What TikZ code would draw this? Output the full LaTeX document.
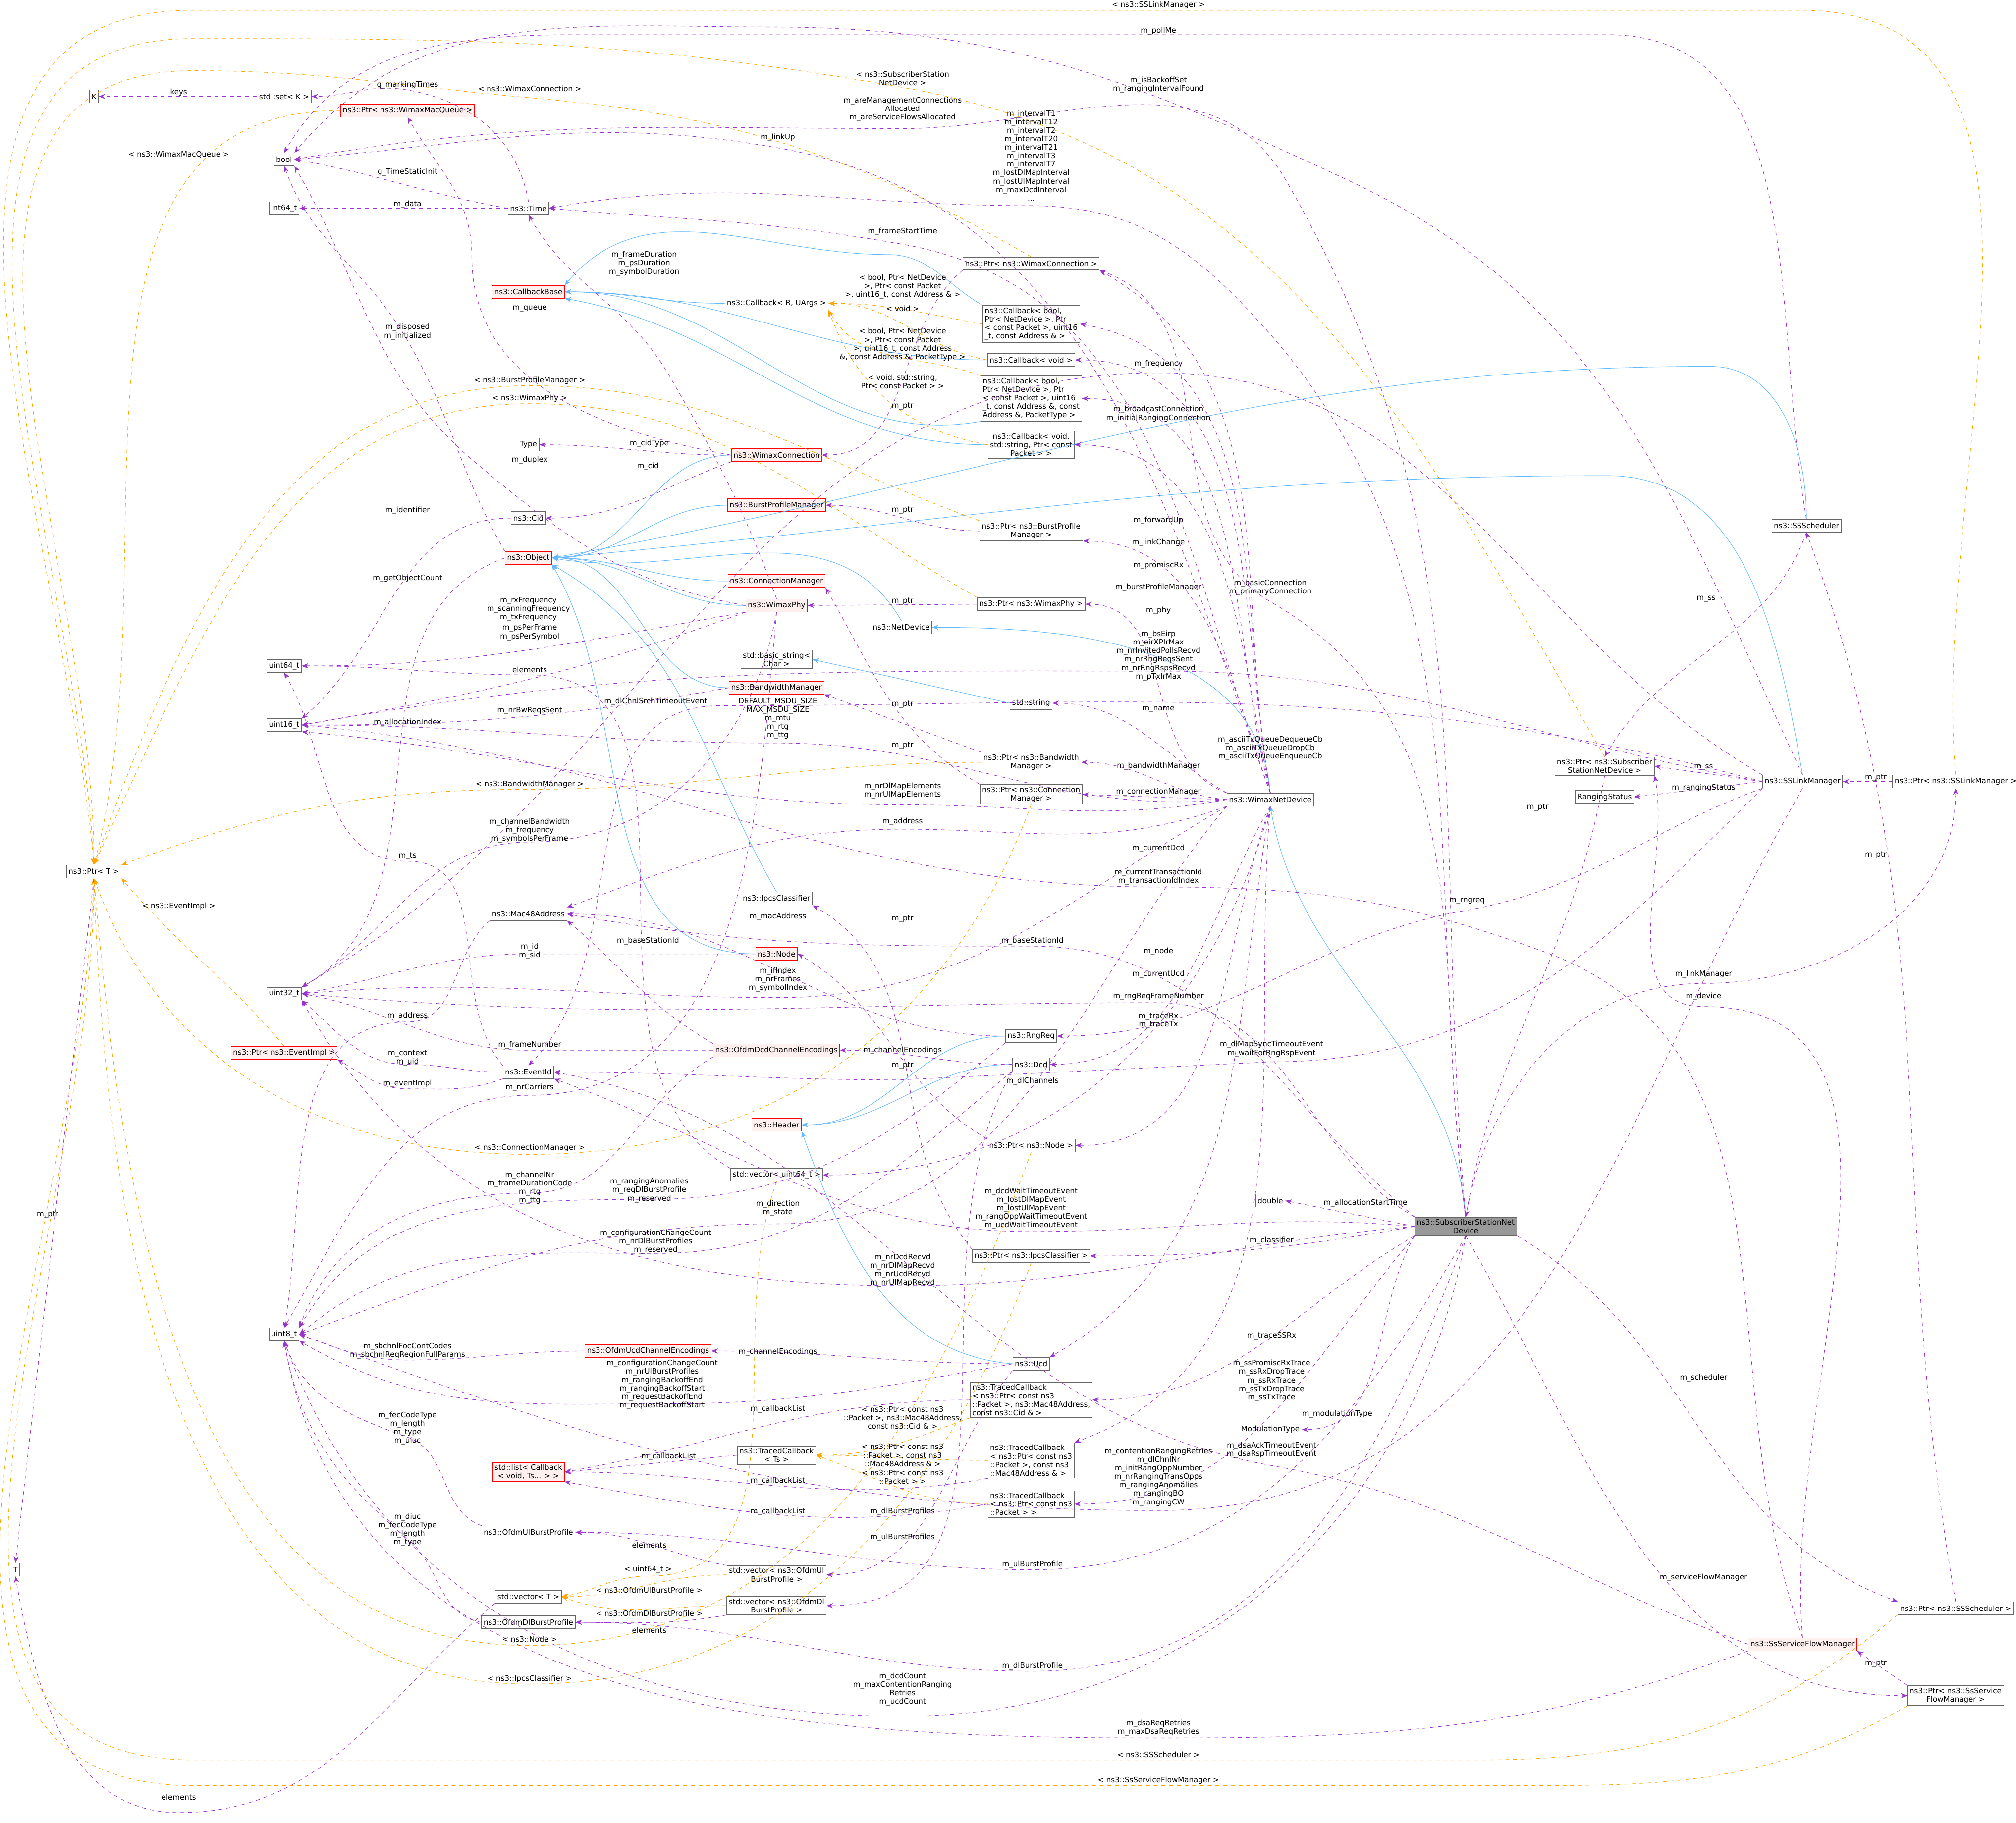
\documentclass[tikz,border=0pt]{standalone}
\usepackage{fontspec}
\setmainfont{DejaVu Sans}
\usetikzlibrary{arrows.meta,positioning}
\definecolor{memc}{HTML}{9A32CD}
\definecolor{tmplc}{HTML}{FFA500}
\definecolor{inhc}{HTML}{63B8FF}
\tikzset{
  cls/.style={draw=black!60, fill=white, font=\fontsize{5.8}{6.6}\selectfont, inner sep=1.6pt, minimum height=10pt, align=center},
  redcls/.style={cls, draw=red, fill=red!6},
  curcls/.style={cls, fill=black!40},
  lbl/.style={font=\fontsize{5.8}{6.6}\selectfont, align=center, inner sep=0pt},
  mem/.style={draw=memc, dashed, -{Stealth[length=5pt,width=4pt]}},
  tmpl/.style={draw=tmplc, dashed, -{Stealth[length=5pt,width=4pt]}},
  inh/.style={draw=inhc, -{Stealth[length=5pt,width=4pt]}},
}
\begin{document}
\begin{tikzpicture}[x=1pt,y=-1pt]
\useasboundingbox (0,0) rectangle (1568,1418);

% left column
\node[cls] (kT) at (73,75) {K};
\node[cls] (setK) at (221,75) {std::set< K >};
\node[cls] (bool) at (221,124) {bool};
\node[cls] (i64) at (221,162) {int64\_t};
\node[cls] (u64) at (221,518) {uint64\_t};
\node[cls] (u16) at (221,564) {uint16\_t};
\node[cls] (pT) at (73,678) {ns3::Ptr< T >};
\node[cls] (u32) at (221,773) {uint32\_t};
\node[redcls] (pEvImpl) at (221,819) {ns3::Ptr< ns3::EventImpl >};
\node[cls] (u8) at (221,1038) {uint8\_t};
\node[cls] (tT) at (12,1221) {T};

% second column
\node[redcls] (pMacQ) at (317,86) {ns3::Ptr< ns3::WimaxMacQueue >};
\node[cls] (time) at (411,162) {ns3::Time};
\node[redcls] (cbBase) at (411,227) {ns3::CallbackBase};
\node[cls] (type) at (411,346) {Type};
\node[cls] (cid) at (411,403) {ns3::Cid};
\node[redcls] (obj) at (411,434) {ns3::Object};
\node[cls] (mac) at (411,711) {ns3::Mac48Address};
\node[cls] (evId) at (411,834) {ns3::EventId};
\node[redcls] (cbList) at (411,1145) {std::list< Callback\\< void, Ts... > >};
\node[cls] (ulProf) at (411,1192) {ns3::OfdmUlBurstProfile};
\node[cls] (vecT) at (411,1242) {std::vector< T >};
\node[cls] (dlProf) at (411,1262) {ns3::OfdmDlBurstProfile};

% third column
\node[cls] (cbR) at (604,236) {ns3::Callback< R, UArgs >};
\node[redcls] (conn) at (604,354) {ns3::WimaxConnection};
\node[redcls] (bpm) at (604,393) {ns3::BurstProfileManager};
\node[redcls] (connMgr) at (604,452) {ns3::ConnectionManager};
\node[redcls] (phy) at (604,471) {ns3::WimaxPhy};
\node[cls] (netDev) at (701,488) {ns3::NetDevice};
\node[cls] (basicStr) at (604,513) {std::basic\_string<\\Char >};
\node[redcls] (bwMgr) at (604,535) {ns3::BandwidthManager};
\node[cls] (ipcs) at (604,699) {ns3::IpcsClassifier};
\node[redcls] (node) at (604,742) {ns3::Node};
\node[redcls] (dcdEnc) at (604,817) {ns3::OfdmDcdChannelEncodings};
\node[redcls] (header) at (604,875) {ns3::Header};
\node[cls] (vecU64) at (604,914) {std::vector< uint64\_t >};
\node[redcls] (ucdEnc) at (504,1051) {ns3::OfdmUcdChannelEncodings};
\node[cls] (tcTs) at (604,1132) {ns3::TracedCallback\\< Ts >};
\node[cls] (vecUl) at (604,1225) {std::vector< ns3::OfdmUl\\BurstProfile >};
\node[cls] (vecDl) at (604,1249) {std::vector< ns3::OfdmDl\\BurstProfile >};

% fourth column
\node[cls] (pConn) at (802,205) {ns3::Ptr< ns3::WimaxConnection >};
\node[cls, align=left] (cbFwd) at (802,252) {ns3::Callback< bool,\\ Ptr< NetDevice >, Ptr\\< const Packet >, uint16\\\_t, const Address \& >};
\node[cls] (cbVoid) at (802,280) {ns3::Callback< void >};
\node[cls, align=left] (cbPromisc) at (802,310) {ns3::Callback< bool,\\ Ptr< NetDevice >, Ptr\\< const Packet >, uint16\\\_t, const Address \&, const\\ Address \&, PacketType >};
\node[cls] (cbTrace) at (802,346) {ns3::Callback< void,\\std::string, Ptr< const\\Packet > >};
\node[cls] (pBpm) at (802,413) {ns3::Ptr< ns3::BurstProfile\\Manager >};
\node[cls] (pPhy) at (802,470) {ns3::Ptr< ns3::WimaxPhy >};
\node[cls] (str) at (802,547) {std::string};
\node[cls] (pBw) at (802,593) {ns3::Ptr< ns3::Bandwidth\\Manager >};
\node[cls] (pConnMgr) at (802,618) {ns3::Ptr< ns3::Connection\\Manager >};
\node[cls] (rngReq) at (802,806) {ns3::RngReq};
\node[cls] (dcd) at (802,828) {ns3::Dcd};
\node[cls] (pNode) at (802,891) {ns3::Ptr< ns3::Node >};
\node[cls] (pIpcs) at (802,977) {ns3::Ptr< ns3::IpcsClassifier >};
\node[cls] (ucd) at (802,1061) {ns3::Ucd};
\node[cls, align=left] (tcCid) at (802,1089) {ns3::TracedCallback\\< ns3::Ptr< const ns3\\::Packet >, ns3::Mac48Address,\\ const ns3::Cid \& >};
\node[cls, align=left] (tcMac) at (802,1136) {ns3::TracedCallback\\< ns3::Ptr< const ns3\\::Packet >, const ns3\\::Mac48Address \& >};
\node[cls, align=left] (tcPkt) at (802,1170) {ns3::TracedCallback\\< ns3::Ptr< const ns3\\::Packet > >};

% fifth column
\node[cls] (wnd) at (988,622) {ns3::WimaxNetDevice};
\node[cls] (dbl) at (988,934) {double};
\node[cls] (modType) at (988,1112) {ModulationType};
\node[curcls] (ssnd) at (1140,954) {ns3::SubscriberStationNet\\Device};

% right columns
\node[cls] (sched) at (1405,409) {ns3::SSScheduler};
\node[cls] (pSsnd) at (1248,596) {ns3::Ptr< ns3::Subscriber\\StationNetDevice >};
\node[cls] (rngStat) at (1248,620) {RangingStatus};
\node[cls] (linkMgr) at (1402,608) {ns3::SSLinkManager};
\node[cls] (pLinkMgr) at (1521,608) {ns3::Ptr< ns3::SSLinkManager >};
\node[cls] (pSched) at (1521,1251) {ns3::Ptr< ns3::SSScheduler >};
\node[redcls] (sfMgr) at (1402,1279) {ns3::SsServiceFlowManager};
\node[cls] (pSfMgr) at (1521,1319) {ns3::Ptr< ns3::SsService\\FlowManager >};

% inheritance
\draw[inh] (cbR.west) to[out=180,in=0] (cbBase.east);
\draw[inh] (cbFwd.north west) to[out=150,in=0] (690,198) to[out=180,in=50] (cbBase.north east);
\draw[inh] (cbVoid.west) to[out=180,in=0] (cbBase.east);
\draw[inh] (cbPromisc.south west) to[out=190,in=0] (cbBase.east);
\draw[inh] (cbTrace.west) to[out=180,in=-10] (cbBase.south east);
\foreach \c in {conn,bpm,connMgr,phy,bwMgr} \draw[inh] (\c.west) to[out=180,in=0] (obj.east);
\draw[inh] (ipcs.north) to[out=120,in=-30] (obj.south east);
\draw[inh] (node.west) to[out=180,in=-60] (obj.south east);
\draw[inh] (netDev.north) to[out=120,in=-10] (obj.east);
\draw[inh] (sched.north) to[out=90,in=0] (1330,285) to[out=180,in=10] (obj.east);
\draw[inh] (linkMgr.north) to[out=100,in=0] (1250,370) to[out=180,in=5] (obj.east);
\draw[inh] (wnd.north) to[out=95,in=0] (netDev.east);
\draw[inh] (ssnd.north) to[out=95,in=-80] (wnd.south);
\draw[inh] (str.west) -- (basicStr.east);
\foreach \c in {rngReq,dcd} \draw[inh] (\c.west) to[out=180,in=0] (header.east);
\draw[inh] (ucd.west) to[out=175,in=-70] (header.south east);

% templates
\draw[tmpl] (pLinkMgr.north) to[out=95,in=0] (1400,8) -- (150,8) to[out=180,in=95] (pT.north);
\draw[tmpl] (pSsnd.north) to[out=120,in=-10] (702,68) to[out=170,in=0] (150,30) to[out=180,in=93] (pT.north);
\draw[tmpl] (pConn.north) to[out=150,in=-5] (412,76) to[out=175,in=0] (150,55) to[out=180,in=90] (pT.north);
\draw[tmpl] (pMacQ.west) to[out=180,in=75] (pT.north);
\draw[tmpl] (pBpm.north west) to[out=160,in=0] (412,300) to[out=180,in=70] (pT.north);
\draw[tmpl] (pPhy.north west) to[out=150,in=0] (412,314) to[out=180,in=65] (pT.north);
\draw[tmpl] (pBw.west) to[out=180,in=0] (412,614) to[out=180,in=20] (pT.north east);
\draw[tmpl] (pEvImpl.north) to[out=130,in=-50] (pT.south east);
\draw[tmpl] (pConnMgr.south) to[out=-110,in=0] (412,898) to[out=180,in=-70] (pT.south);
\draw[tmpl] (pNode.south) to[out=-110,in=0] (412,1280) to[out=180,in=-85] (pT.south);
\draw[tmpl] (pIpcs.south) to[out=-110,in=0] (412,1310) to[out=180,in=-88] (pT.south);
\draw[tmpl] (pSched.south west) to[out=220,in=0] (1150,1369) -- (150,1369) to[out=180,in=-90] (pT.south);
\draw[tmpl] (pSfMgr.south west) to[out=210,in=0] (1150,1389) -- (150,1389) to[out=180,in=-92] (pT.south);
\draw[tmpl] (cbFwd.west) to[out=170,in=0] (cbR.east);
\draw[tmpl] (cbVoid.west) to[out=170,in=0] (cbR.east);
\draw[tmpl] (cbPromisc.north west) to[out=160,in=-60] (cbR.south east);
\draw[tmpl] (cbTrace.west) to[out=170,in=-70] (cbR.south east);
\draw[tmpl] (tcCid.south west) to[out=200,in=0] (tcTs.east);
\draw[tmpl] (tcMac.west) to[out=180,in=0] (tcTs.east);
\draw[tmpl] (tcPkt.west) to[out=180,in=-20] (tcTs.east);
\draw[tmpl] (vecU64.south) to[out=-110,in=0] (504,1226) to[out=180,in=10] (vecT.east);
\draw[tmpl] (vecUl.west) to[out=180,in=0] (vecT.east);
\draw[tmpl] (vecDl.west) to[out=180,in=-20] (vecT.east);

% members, left part
\draw[mem] (setK) -- (kT);
\draw[mem] (time.north) to[out=100,in=-10] (317,70) to[out=170,in=0] (setK.east);
\draw[mem] (time.west) to[out=170,in=-10] (bool.east);
\draw[mem] (time.west) -- (i64.east);
\draw[mem] (obj.north west) to[out=120,in=-60] (317,265) to[out=120,in=-70] (bool.south);
\draw[mem] (obj.west) to[out=200,in=30] (u32.north east);
\draw[mem] (cid.west) to[out=180,in=40] (u16.north east);
\draw[mem] (conn.west) to[out=170,in=-90] (367,200) to[out=90,in=-60] (pMacQ.south);
\draw[mem] (conn.west) to[out=180,in=0] (type.east);
\draw[mem] (conn.south west) to[out=200,in=0] (cid.east);
\draw[mem] (phy.west) to[out=170,in=-40] (370,360) to[out=140,in=-60] (bool.south east);
\draw[mem] (phy.south west) to[out=190,in=0] (u64.east);
\draw[mem] (phy.south west) to[out=200,in=10] (u16.east);
\draw[mem] (phy.north) to[out=110,in=-60] (521,293) to[out=120,in=-60] (time.south);
\draw[mem] (phy.south) to[out=-100,in=0] (412,655) to[out=180,in=30] (u32.north east);
\draw[mem] (phy.south) to[out=-95,in=0] (412,852) to[out=180,in=60] (u8.north);
\draw[mem] (vecU64.north west) to[out=150,in=0] (412,525) to[out=180,in=0] (u64.east);
\draw[mem] (bwMgr.west) to[out=190,in=0] (u16.east);
\draw[mem] (evId.north west) to[out=130,in=0] (317,670) to[out=180,in=-60] (u64.south);
\draw[mem] (evId.west) to[out=180,in=0] (317,828) to[out=180,in=-40] (u32.south east);
\draw[mem] (evId.south west) to[out=200,in=0] (317,847) to[out=180,in=-30] (pEvImpl.south east);
\draw[mem] (node.west) to[out=180,in=0] (412,742) to[out=180,in=10] (u32.east);
\draw[mem] (mac.south west) to[out=220,in=0] (317,795) to[out=180,in=80] (u8.north);
\draw[mem] (dcdEnc.west) to[out=180,in=0] (412,817) to[out=180,in=-10] (u32.east);
\draw[mem] (dcdEnc.south west) to[out=210,in=0] (412,928) to[out=180,in=70] (u8.north east);
\draw[mem] (dcdEnc.north west) to[out=150,in=-40] (mac.south east);
\draw[mem] (rngReq.west) to[out=180,in=0] (mac.east);
\draw[mem] (rngReq.south west) to[out=220,in=0] (505,933) to[out=180,in=60] (u8.north east);
\draw[mem] (dcd.south west) to[out=220,in=0] (510,975) to[out=180,in=40] (u8.east);
\draw[mem] (ucdEnc.west) to[out=180,in=0] (317,1058) to[out=180,in=-20] (u8.east);
\draw[mem] (ucd.west) to[out=190,in=0] (515,1092) to[out=180,in=-30] (u8.south east);
\draw[mem] (ulProf.north west) to[out=160,in=-20] (317,1118) to[out=160,in=-70] (u8.south);
\draw[mem] (dlProf.west) to[out=170,in=-40] (317,1197) to[out=140,in=-80] (u8.south);
\draw[mem] (tcTs.west) -- (cbList.east);
\draw[mem] (tcCid.west) to[out=180,in=10] (cbList.east);
\draw[mem] (tcMac.south west) to[out=190,in=0] (cbList.east);
\draw[mem] (tcPkt.west) to[out=190,in=-10] (cbList.south east);
\draw[mem] (vecUl.north west) to[out=170,in=0] (ulProf.east);
\draw[mem] (vecDl.south west) to[out=190,in=0] (dlProf.east);
\draw[mem] (ucd.west) to[out=180,in=0] (ucdEnc.east);
\draw[mem] (dcd.west) to[out=180,in=0] (dcdEnc.east);
\draw[mem] (ucd.south west) to[out=230,in=0] (vecUl.east);
\draw[mem] (dcd.south west) to[out=240,in=0] (vecDl.east);
\draw[mem] (pT.south) -- (tT.north);
\draw[mem] (vecT.south west) to[out=220,in=0] (139,1410) to[out=180,in=-80] (tT.south);

% members, pointers
\draw[mem] (pConn.south west) to[out=220,in=0] (conn.east);
\draw[mem] (pBpm.west) to[out=180,in=0] (bpm.east);
\draw[mem] (pPhy.west) -- (phy.east);
\draw[mem] (pBw.north west) to[out=160,in=-20] (bwMgr.south east);
\draw[mem] (pConnMgr.north west) to[out=150,in=-60] (connMgr.south east);
\draw[mem] (pIpcs.north west) to[out=130,in=-30] (ipcs.south east);
\draw[mem] (pNode.north west) to[out=150,in=-30] (node.east);
\draw[mem] (pSsnd.south) to[out=-100,in=80] (ssnd.north);
\draw[mem] (pLinkMgr.west) -- (linkMgr.east);
\draw[mem] (pSched.north) to[out=100,in=-70] (sched.south);
\draw[mem] (pSfMgr.north west) -- (sfMgr.south east);

% members, network device
\draw[mem] (wnd.north west) to[out=160,in=0] (pPhy.east);
\draw[mem] (wnd.north west) to[out=150,in=0] (str.east);
\draw[mem] (wnd.west) to[out=175,in=0] (pBw.east);
\draw[mem] (wnd.west) -- (pConnMgr.east);
\draw[mem] (wnd.north) to[out=110,in=0] (pBpm.south east);
\draw[mem] (wnd.north) to[out=105,in=0] (cbPromisc.east);
\draw[mem] (wnd.north) to[out=100,in=0] (cbVoid.east);
\draw[mem] (wnd.north) to[out=100,in=-10] (cbFwd.east);
\draw[mem] (wnd.north) to[out=100,in=-30] (pConn.south east);
\draw[mem] (wnd.north) to[out=102,in=0] (cbTrace.east);
\draw[mem] (wnd.north) to[out=110,in=-10] (605,115) to[out=170,in=5] (bool.east);
\draw[mem] (wnd.north) to[out=110,in=-10] (702,190) to[out=170,in=-5] (time.east);
\draw[mem] (wnd.west) to[out=185,in=0] (605,578) to[out=180,in=0] (u16.east);
\draw[mem] (wnd.west) to[out=190,in=0] (702,626) to[out=180,in=-5] (u16.south east);
\draw[mem] (wnd.south west) to[out=200,in=0] (702,645) to[out=180,in=20] (mac.north east);
\draw[mem] (wnd.south) to[out=-120,in=0] (dcd.east);
\draw[mem] (wnd.south) to[out=-100,in=30] (ucd.north east);
\draw[mem] (wnd.south) to[out=-110,in=0] (pNode.east);
\draw[mem] (wnd.south) to[out=-95,in=20] (tcMac.north east);
\draw[mem] (wnd.south west) to[out=210,in=0] (605,776) to[out=180,in=5] (u32.east);
\draw[mem] (wnd.south west) to[out=230,in=0] (605,952) to[out=180,in=20] (u8.east);
\draw[mem] (wnd.south) to[out=-105,in=0] (vecU64.east);

% members, subscriber station
\draw[mem] (sched.north) to[out=100,in=0] (1250,27) -- (450,27) to[out=180,in=60] (bool.north);
\draw[mem] (linkMgr.north) to[out=115,in=-25] (1048,140) to[out=155,in=0] (600,21) to[out=180,in=50] (bool.north east);
\draw[mem] (ssnd.north) to[out=95,in=-60] (1000,140) to[out=120,in=0] (702,100) to[out=180,in=10] (bool.east);
\draw[mem] (ssnd.north) to[out=97,in=-45] (960,230) to[out=135,in=0] (800,160) to[out=180,in=10] (time.east);
\draw[mem] (ssnd.north) to[out=98,in=-30] (988,468) to[out=150,in=-20] (pConn.south east);
\draw[mem] (ssnd.north) to[out=80,in=180] (1325,765) to[out=0,in=-90] (pLinkMgr.south);
\draw[mem] (ssnd.west) -- (dbl.east);
\draw[mem] (ssnd.west) to[out=190,in=0] (pIpcs.east);
\draw[mem] (ssnd.south west) to[out=210,in=0] (tcCid.east);
\draw[mem] (ssnd.south west) to[out=230,in=0] (tcPkt.east);
\draw[mem] (ssnd.south west) to[out=240,in=0] (modType.east);
\draw[mem] (ssnd.south east) to[out=-30,in=160] (pSched.north west);
\draw[mem] (ssnd.south) to[out=-60,in=180] (pSfMgr.west);
\draw[mem] (ssnd.south) to[out=-100,in=0] (702,1335) to[out=180,in=-70] (u8.south);
\draw[mem] (ssnd.south) to[out=-110,in=0] (803,1300) to[out=180,in=0] (dlProf.east);
\draw[mem] (ssnd.south) to[out=-120,in=0] (803,1221) to[out=180,in=0] (ulProf.east);
\draw[mem] (ssnd.west) to[out=185,in=0] (702,1000) to[out=180,in=-60] (u32.south east);
\draw[mem] (ssnd.west) to[out=175,in=0] (802,958) to[out=180,in=-20] (evId.south east);
\draw[mem] (ssnd.north west) to[out=150,in=0] (901,780) to[out=180,in=-5] (u32.east);
\draw[mem] (ssnd.north west) to[out=140,in=0] (803,736) to[out=180,in=-10] (mac.east);
\draw[mem] (linkMgr.west) -- (pSsnd.east);
\draw[mem] (linkMgr.west) -- (rngStat.east);
\draw[mem] (sched.south) to[out=-110,in=60] (pSsnd.north);
\draw[mem] (linkMgr.south west) to[out=200,in=10] (1141,708) to[out=190,in=0] (rngReq.east);
\draw[mem] (linkMgr.south west) to[out=225,in=0] (989,826) -- (700,840) to[out=180,in=0] (evId.east);
\draw[mem] (linkMgr.south) to[out=240,in=0] (901,1175) to[out=180,in=-20] (u8.east);
\draw[mem] (linkMgr.west) to[out=165,in=0] (560,549) to[out=180,in=45] (evId.north);
\draw[mem] (linkMgr.north west) to[out=150,in=0] (901,290) to[out=180,in=30] (u32.north east);
\draw[mem] (linkMgr.west) to[out=170,in=0] (901,522) to[out=180,in=10] (u16.east);
\draw[mem] (sfMgr.north) to[out=110,in=-20] (1200,740) to[out=160,in=0] (901,690) to[out=180,in=-5] (u16.east);
\draw[mem] (sfMgr.north) to[out=95,in=0] (1325,783) to[out=180,in=-80] (pSsnd.south east);
\draw[mem] (sfMgr.west) to[out=160,in=-10] (989,1140) to[out=170,in=-10] (evId.east);
\draw[mem] (sfMgr.south west) to[out=200,in=0] (901,1352) to[out=180,in=-80] (u8.south);

% labels
\node[lbl] (lKeys) at (139,72) {keys};
\node[lbl] (lMark) at (317,66) {g\_markingTimes};
\node[lbl] (lConnT) at (412,69) {< ns3::WimaxConnection >};
\node[lbl] (lMacQT) at (139,120) {< ns3::WimaxMacQueue >};
\node[lbl] (lTimeInit) at (317,134) {g\_TimeStaticInit};
\node[lbl] (lData) at (317,159) {m\_data};
\node[lbl] (lFrameDur) at (501,205) {m\_frameDuration\\m\_psDuration\\m\_symbolDuration};
\node[lbl] (lQueue) at (412,240) {m\_queue};
\node[lbl] (lDisposed) at (317,258) {m\_disposed\\m\_initialized};
\node[lbl] (lBpmT) at (412,296) {< ns3::BurstProfileManager >};
\node[lbl] (lPhyT) at (412,310) {< ns3::WimaxPhy >};
\node[lbl] (lCidType) at (505,345) {m\_cidType};
\node[lbl] (lDuplex) at (412,358) {m\_duplex};
\node[lbl] (lCid) at (504,363) {m\_cid};
\node[lbl] (lIdent) at (317,397) {m\_identifier};
\node[lbl] (lObjCnt) at (317,450) {m\_getObjectCount};
\node[lbl] (lRxFreq) at (411,474) {m\_rxFrequency\\m\_scanningFrequency\\m\_txFrequency};
\node[lbl] (lPsPer) at (412,492) {m\_psPerFrame\\m\_psPerSymbol};
\node[lbl] (lElemU64) at (412,521) {elements};
\node[lbl] (lDlSrch) at (510,546) {m\_dlChnlSrchTimeoutEvent};
\node[lbl] (lBwReq) at (412,553) {m\_nrBwReqsSent};
\node[lbl] (lAllocIdx) at (317,562) {m\_allocationIndex};
\node[lbl] (lBwT) at (412,610) {< ns3::BandwidthManager >};
\node[lbl] (lChBw) at (412,646) {m\_channelBandwidth\\m\_frequency\\m\_symbolsPerFrame};
\node[lbl] (lTs) at (317,666) {m\_ts};
\node[lbl] (lEvT) at (139,705) {< ns3::EventImpl >};
\node[lbl] (lBsId) at (504,732) {m\_baseStationId};
\node[lbl] (lIdSid) at (412,740) {m\_id\\m\_sid};
\node[lbl] (lAddrMac) at (317,790) {m\_address};
\node[lbl] (lFrameNr) at (412,813) {m\_frameNumber};
\node[lbl] (lCtx) at (317,823) {m\_context\\m\_uid};
\node[lbl] (lEvImpl) at (317,843) {m\_eventImpl};
\node[lbl] (lCarriers) at (412,846) {m\_nrCarriers};
\node[lbl] (lCmT) at (412,893) {< ns3::ConnectionManager >};
\node[lbl] (lChNr) at (412,924) {m\_channelNr\\m\_frameDurationCode\\m\_rtg\\m\_ttg};
\node[lbl] (lRngAnom) at (505,926) {m\_rangingAnomalies\\m\_reqDlBurstProfile\\m\_reserved};
\node[lbl] (lPtrT) at (37,945) {m\_ptr};
\node[lbl] (lCfgDcd) at (510,966) {m\_configurationChangeCount\\m\_nrDlBurstProfiles\\m\_reserved};
\node[lbl] (lSbch) at (317,1051) {m\_sbchnlFocContCodes\\m\_sbchnlReqRegionFullParams};
\node[lbl] (lCfgUcd) at (515,1077) {m\_configurationChangeCount\\m\_nrUlBurstProfiles\\m\_rangingBackoffEnd\\m\_rangingBackoffStart\\m\_requestBackoffEnd\\m\_requestBackoffStart};
\node[lbl] (lFec) at (317,1111) {m\_fecCodeType\\m\_length\\m\_type\\m\_uiuc};
\node[lbl] (lCbl1) at (520,1133) {m\_callbackList};
\node[lbl] (lDiuc) at (317,1190) {m\_diuc\\m\_fecCodeType\\m\_length\\m\_type};
\node[lbl] (lElemUl) at (505,1202) {elements};
\node[lbl] (lU64T) at (504,1221) {< uint64\_t >};
\node[lbl] (lUlT) at (505,1237) {< ns3::OfdmUlBurstProfile >};
\node[lbl] (lDlT) at (505,1255) {< ns3::OfdmDlBurstProfile >};
\node[lbl] (lElemDl) at (505,1268) {elements};
\node[lbl] (lNodeT) at (412,1275) {< ns3::Node >};
\node[lbl] (lIpcsT) at (412,1306) {< ns3::IpcsClassifier >};
\node[lbl] (lElemT) at (139,1398) {elements};

\node[lbl] (lLmT) at (901,4) {< ns3::SSLinkManager >};
\node[lbl] (lPollMe) at (901,24) {m\_pollMe};
\node[lbl] (lSsT) at (702,61) {< ns3::SubscriberStation\\NetDevice >};
\node[lbl] (lBackoff) at (901,66) {m\_isBackoffSet\\m\_rangingIntervalFound};
\node[lbl] (lMgmt) at (702,85) {m\_areManagementConnections\\Allocated\\m\_areServiceFlowsAllocated};
\node[lbl] (lLinkUp) at (605,107) {m\_linkUp};
\node[lbl] (lIntervals) at (802,121) {m\_intervalT1\\m\_intervalT12\\m\_intervalT2\\m\_intervalT20\\m\_intervalT21\\m\_intervalT3\\m\_intervalT7\\m\_lostDlMapInterval\\m\_lostUlMapInterval\\m\_maxDcdInterval\\...};
\node[lbl] (lFrameStart) at (702,180) {m\_frameStartTime};
\node[lbl] (lFwdT) at (702,223) {< bool, Ptr< NetDevice\\>, Ptr< const Packet\\>, uint16\_t, const Address \& >};
\node[lbl] (lVoidT) at (702,240) {< void >};
\node[lbl] (lPromT) at (702,268) {< bool, Ptr< NetDevice\\>, Ptr< const Packet\\>, uint16\_t, const Address\\\&, const Address \&, PacketType >};
\node[lbl] (lFreq) at (901,283) {m\_frequency};
\node[lbl] (lStrT) at (702,297) {< void, std::string,\\Ptr< const Packet > >};
\node[lbl] (lPtrConn) at (702,316) {m\_ptr};
\node[lbl] (lBcast) at (901,322) {m\_broadcastConnection\\m\_initialRangingConnection};
\node[lbl] (lPtrBpm) at (702,397) {m\_ptr};
\node[lbl] (lFwdUp) at (901,405) {m\_forwardUp};
\node[lbl] (lLinkCh) at (901,422) {m\_linkChange};
\node[lbl] (lPromisc) at (901,440) {m\_promiscRx};
\node[lbl] (lBpmMem) at (901,457) {m\_burstProfileManager};
\node[lbl] (lBasic) at (988,457) {m\_basicConnection\\m\_primaryConnection};
\node[lbl] (lPtrPhy) at (702,468) {m\_ptr};
\node[lbl] (lSs) at (1327,466) {m\_ss};
\node[lbl] (lPhyMem) at (901,475) {m\_phy};
\node[lbl] (lEirp) at (901,510) {m\_bsEirp\\m\_eirXPIrMax\\m\_nrInvitedPollsRecvd\\m\_nrRngReqsSent\\m\_nrRngRspsRecvd\\m\_pTxIrMax};
\node[lbl] (lPtrBw) at (702,548) {m\_ptr};
\node[lbl] (lName) at (901,552) {m\_name};
\node[lbl] (lMsdu) at (605,559) {DEFAULT\_MSDU\_SIZE\\MAX\_MSDU\_SIZE\\m\_mtu\\m\_rtg\\m\_ttg};
\node[lbl] (lPtrCm) at (702,580) {m\_ptr};
\node[lbl] (lAscii) at (988,582) {m\_asciiTxQueueDequeueCb\\m\_asciiTxQueueDropCb\\m\_asciiTxQueueEnqueueCb};
\node[lbl] (lBwMem) at (901,596) {m\_bandwidthManager};
\node[lbl] (lDlMapEl) at (702,615) {m\_nrDlMapElements\\m\_nrUlMapElements};
\node[lbl] (lCmMem) at (901,616) {m\_connectionManager};
\node[lbl] (lAddrWnd) at (702,639) {m\_address};
\node[lbl] (lCurDcd) at (901,660) {m\_currentDcd};
\node[lbl] (lTrans) at (901,682) {m\_currentTransactionId\\m\_transactionIdIndex};
\node[lbl] (lMacAddr) at (605,713) {m\_macAddress};
\node[lbl] (lPtrIpcs) at (702,715) {m\_ptr};
\node[lbl] (lBsId2) at (803,732) {m\_baseStationId};
\node[lbl] (lNode) at (901,740) {m\_node};
\node[lbl] (lIfIdx) at (605,762) {m\_ifIndex\\m\_nrFrames\\m\_symbolIndex};
\node[lbl] (lCurUcd) at (901,758) {m\_currentUcd};
\node[lbl] (lRngFrame) at (901,775) {m\_rngReqFrameNumber};
\node[lbl] (lTrace) at (901,794) {m\_traceRx\\m\_traceTx};
\node[lbl] (lSync) at (989,816) {m\_dlMapSyncTimeoutEvent\\m\_waitForRngRspEvent};
\node[lbl] (lChEncDcd) at (702,817) {m\_channelEncodings};
\node[lbl] (lPtrNode) at (702,829) {m\_ptr};
\node[lbl] (lDlCh) at (803,841) {m\_dlChannels};
\node[lbl] (lDir) at (605,940) {m\_direction\\m\_state};
\node[lbl] (lDcdWait) at (802,940) {m\_dcdWaitTimeoutEvent\\m\_lostDlMapEvent\\m\_lostUlMapEvent\\m\_rangOppWaitTimeoutEvent\\m\_ucdWaitTimeoutEvent};
\node[lbl] (lAllocStart) at (1062,936) {m\_allocationStartTime};
\node[lbl] (lClass) at (989,965) {m\_classifier};
\node[lbl] (lNrDcd) at (702,988) {m\_nrDcdRecvd\\m\_nrDlMapRecvd\\m\_nrUcdRecvd\\m\_nrUlMapRecvd};
\node[lbl] (lSsRx) at (989,1039) {m\_traceSSRx};
\node[lbl] (lChEncUcd) at (605,1052) {m\_channelEncodings};
\node[lbl] (lSsTr) at (989,1074) {m\_ssPromiscRxTrace\\m\_ssRxDropTrace\\m\_ssRxTrace\\m\_ssTxDropTrace\\m\_ssTxTrace};
\node[lbl] (lCbl2) at (605,1096) {m\_callbackList};
\node[lbl] (lCidT) at (702,1103) {< ns3::Ptr< const ns3\\::Packet >, ns3::Mac48Address,\\const ns3::Cid \& >};
\node[lbl] (lModType) at (1040,1100) {m\_modulationType};
\node[lbl] (lDsaAck) at (989,1128) {m\_dsaAckTimeoutEvent\\m\_dsaRspTimeoutEvent};
\node[lbl] (lMacT) at (702,1132) {< ns3::Ptr< const ns3\\::Packet >, const ns3\\::Mac48Address \& >};
\node[lbl] (lContention) at (901,1149) {m\_contentionRangingRetries\\m\_dlChnlNr\\m\_initRangOppNumber\\m\_nrRangingTransOpps\\m\_rangingAnomalies\\m\_rangingBO\\m\_rangingCW};
\node[lbl] (lPktT) at (702,1149) {< ns3::Ptr< const ns3\\::Packet > >};
\node[lbl] (lCbl3) at (605,1152) {m\_callbackList};
\node[lbl] (lCbl4) at (605,1176) {m\_callbackList};
\node[lbl] (lDlBps) at (702,1176) {m\_dlBurstProfiles};
\node[lbl] (lUlBps) at (702,1196) {m\_ulBurstProfiles};
\node[lbl] (lUlBp) at (803,1217) {m\_ulBurstProfile};
\node[lbl] (lDlBp) at (803,1296) {m\_dlBurstProfile};
\node[lbl] (lDcdCnt) at (702,1314) {m\_dcdCount\\m\_maxContentionRanging\\Retries\\m\_ucdCount};
\node[lbl] (lDsaReq) at (901,1344) {m\_dsaReqRetries\\m\_maxDsaReqRetries};
\node[lbl] (lSchedT) at (901,1365) {< ns3::SSScheduler >};
\node[lbl] (lSfT) at (901,1385) {< ns3::SsServiceFlowManager >};

\node[lbl] (lSs2) at (1325,597) {m\_ss};
\node[lbl] (lRngStat) at (1325,613) {m\_rangingStatus};
\node[lbl] (lPtrLm) at (1459,605) {m\_ptr};
\node[lbl] (lPtrSs) at (1196,628) {m\_ptr};
\node[lbl] (lPtrSch) at (1459,665) {m\_ptr};
\node[lbl] (lRngreq) at (1141,701) {m\_rngreq};
\node[lbl] (lLinkMgr) at (1325,758) {m\_linkManager};
\node[lbl] (lDevice) at (1325,775) {m\_device};
\node[lbl] (lSched) at (1325,1072) {m\_scheduler};
\node[lbl] (lSfMgr) at (1325,1227) {m\_serviceFlowManager};
\node[lbl] (lPtrSf) at (1459,1294) {m\_ptr};
\end{tikzpicture}
\end{document}
